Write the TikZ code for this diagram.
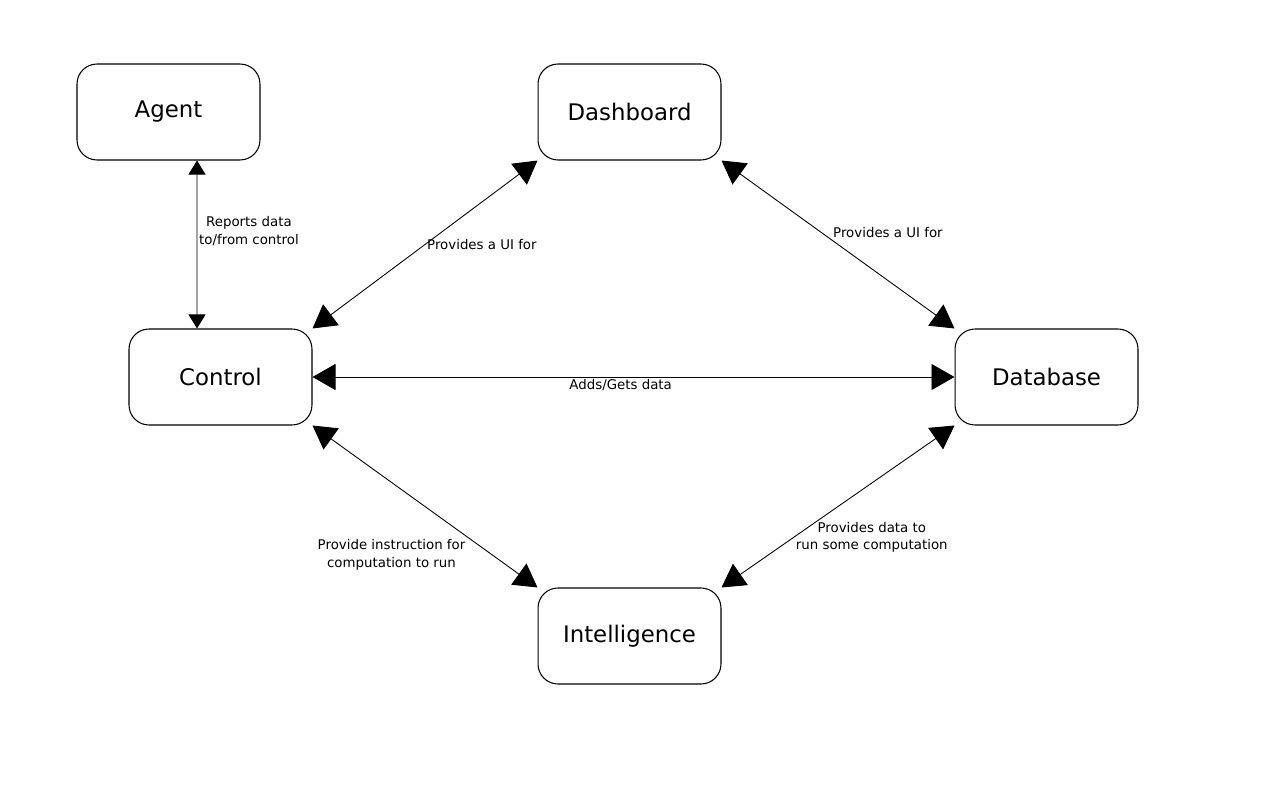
\documentclass[tikz,border=0pt]{standalone}
\usepackage{fontspec}
\setmainfont{DejaVu Sans}
\usetikzlibrary{arrows.meta}
\tikzset{
  block/.style={draw, rounded corners=0.4cm, minimum width=3.66cm, minimum height=1.92cm,
    line width=0.6pt, font=\fontsize{13}{15}\selectfont},
  link/.style={{Triangle[length=0.46cm,width=0.52cm]}-{Triangle[length=0.46cm,width=0.52cm]}, line width=0.5pt},
  smalllink/.style={{Triangle[length=0.28cm,width=0.34cm]}-{Triangle[length=0.28cm,width=0.34cm]}, line width=0.5pt},
  lbl/.style={font=\fontsize{7.6}{10.2}\selectfont, align=center, inner sep=1pt}
}

\begin{document}
\begin{tikzpicture}[x=0.02cm, y=-0.02cm]

           \useasboundingbox (0,0) rectangle (1280,800);

           \node[block] (Agent) at (168.5,112) {Agent};
           \node[block] (Dash) at (629.5,112) {Dashboard};
           \node[block] (Ctrl) at (220.5,377) {Control};
           \node[block] (DB) at (1046.5,377) {Database};
           \node[block] (Intel) at (629.5,636) {Intelligence};

           \draw[smalllink] ([xshift=0.57cm]Agent.south) to
             node[lbl, pos=0.42, anchor=west] {Reports data\\to/from control} ([xshift=-0.47cm]Ctrl.north);
           \draw[link] (Ctrl.north east) to node[lbl, pos=0.5, anchor=west] {Provides a UI for} (Dash.south west);
           \draw[link] (Dash.south east) to node[lbl, pos=0.47, anchor=south west] {Provides a UI for} (DB.north west);
           \draw[link] (Ctrl.east) to node[lbl, pos=0.48, below] {Adds/Gets data} (DB.west);
           \draw[link] (Ctrl.south east) to
             node[lbl, pos=0.8, anchor=east, xshift=-0.5cm] {Provide instruction for\\computation to run} (Intel.north west);
           \draw[link] (DB.south west) to
             node[lbl, pos=0.69, anchor=west] {Provides data to\\run some computation} (Intel.north east);

         \end{tikzpicture}
\end{document}
